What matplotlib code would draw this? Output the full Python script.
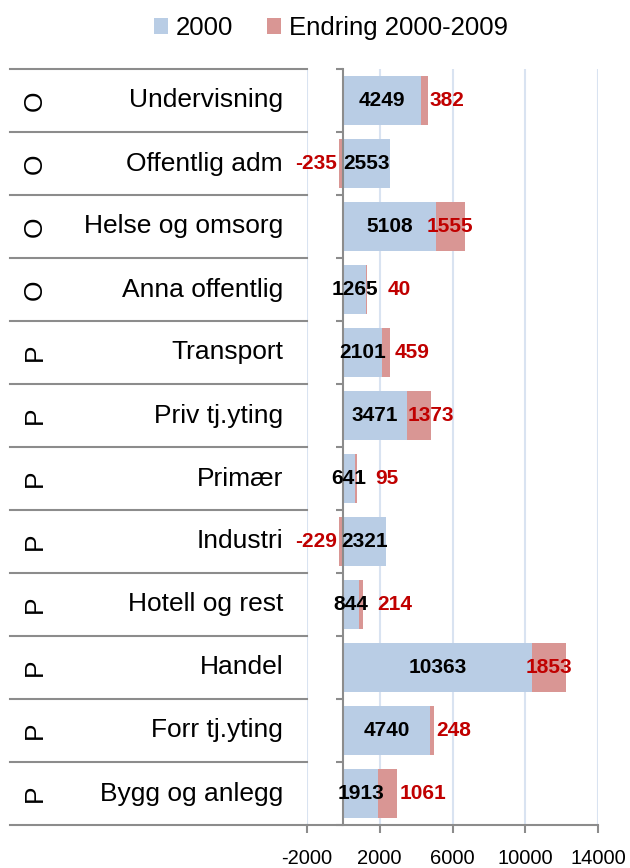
import matplotlib
matplotlib.use("Agg")
import matplotlib.pyplot as plt
import matplotlib.transforms as mtransforms
from matplotlib.patches import Patch

plt.rcParams['font.family'] = ['Liberation Sans', 'DejaVu Sans']

categories = ["Undervisning", "Offentlig adm", "Helse og omsorg", "Anna offentlig",
              "Transport", "Priv tj.yting", "Primær", "Industri", "Hotell og rest",
              "Handel", "Forr tj.yting", "Bygg og anlegg"]
sector = ["O", "O", "O", "O", "P", "P", "P", "P", "P", "P", "P", "P"]
base_2000 = [4249, 2553, 5108, 1265, 2101, 3471, 641, 2321, 844, 10363, 4740, 1913]
change = [382, -235, 1555, 40, 459, 1373, 95, -229, 214, 1853, 248, 1061]
legend_labels = ["2000", "Endring 2000-2009"]
xticks = [-2000, 2000, 6000, 10000, 14000]

blue = "#B9CDE5"
red = "#D99694"
dark_red = "#C00000"
line_gray = "#8C8C8C"
grid_col = "#D9E3F1"

W, H = 630, 868
fig = plt.figure(figsize=(W / 100, H / 100), dpi=100)
x0, x1 = 307, 598
y_top, y_bot = 69, 825
ax = fig.add_axes([x0 / W, 1 - y_bot / H, (x1 - x0) / W, (y_bot - y_top) / H])

n = len(categories)
ys = list(range(n))
ax.barh(ys, base_2000, height=0.78, color=blue, zorder=2)
left_change = [b if c >= 0 else 0 for b, c in zip(base_2000, change)]
ax.barh(ys, change, left=left_change, height=0.78, color=red, zorder=2)

ax.set_xlim(xticks[0], xticks[-1])
ax.set_ylim(n - 0.5, -0.5)

# grid and axes
ax.set_xticks(xticks)
ax.set_xticklabels([str(t) for t in xticks])
ax.xaxis.grid(True, color=grid_col, lw=1.5, zorder=0)
ax.set_axisbelow(True)
for s in ["top", "right"]:
    ax.spines[s].set_visible(False)
ax.spines["left"].set_position(("data", 0))
ax.spines["left"].set_color(line_gray)
ax.spines["left"].set_linewidth(1.5)
ax.spines["bottom"].set_color(line_gray)
ax.spines["bottom"].set_linewidth(1.5)
ax.set_yticks([i - 0.5 for i in range(n + 1)])
ax.set_yticklabels([])
ax.tick_params(axis="y", direction="out", length=5, width=1.5, color=line_gray)
ax.tick_params(axis="x", direction="out", length=6, width=1.5, color=line_gray,
               labelsize=14.5, pad=11.5)

# data labels
renderer = fig.canvas.get_renderer()
lab_kw = dict(fontsize=15, fontweight="bold", va="center", zorder=3)
gap_px = 9
for i, (b, c) in enumerate(zip(base_2000, change)):
    tb = ax.text(b / 2, i, str(b), ha="center", color="black", **lab_kw)
    blue_right = tb.get_window_extent(renderer).x1
    if c < 0:
        ax.annotate(str(c), xy=(c, i), xytext=(-1.5, 0), textcoords="offset points",
                    ha="right", color=dark_red, **lab_kw)
        continue
    tr = ax.text(0, i, str(c), ha="left", color=dark_red, **lab_kw)
    w = tr.get_window_extent(renderer).width
    seg_l = ax.transData.transform((b, i))[0]
    seg_r = ax.transData.transform((b + c, i))[0]
    if seg_r - seg_l >= 0.5 * w:
        left_px = max((seg_l + seg_r) / 2 - w / 2, blue_right + gap_px)
    else:
        left_px = max(seg_r + 2, blue_right + gap_px)
    tr.set_x(ax.transData.inverted().transform((left_px, 0))[0])

# left table
blend = mtransforms.blended_transform_factory(fig.transFigure, ax.transData)
for i in range(n + 1):
    ax.plot([10 / W, x0 / W], [i - 0.5, i - 0.5], transform=blend, color=line_gray,
            lw=1.5, clip_on=False, zorder=1)
for i, (cat, sec) in enumerate(zip(categories, sector)):
    ax.text(283 / W, i, cat, transform=blend, ha="right", va="center", fontsize=19)
    ax.text(35 / W, i, sec, transform=blend, ha="center", va="center", fontsize=19,
            rotation=90)

handles = [Patch(facecolor=blue, edgecolor="none"), Patch(facecolor=red, edgecolor="none")]
fig.legend(handles, legend_labels, loc="center", bbox_to_anchor=(331 / W, 1 - 28 / H),
           ncol=2, frameon=False, fontsize=18.5, handlelength=0.55, handleheight=0.55,
           handletextpad=0.3, columnspacing=1.3, borderpad=0)

fig.savefig("out.png", dpi=100)
